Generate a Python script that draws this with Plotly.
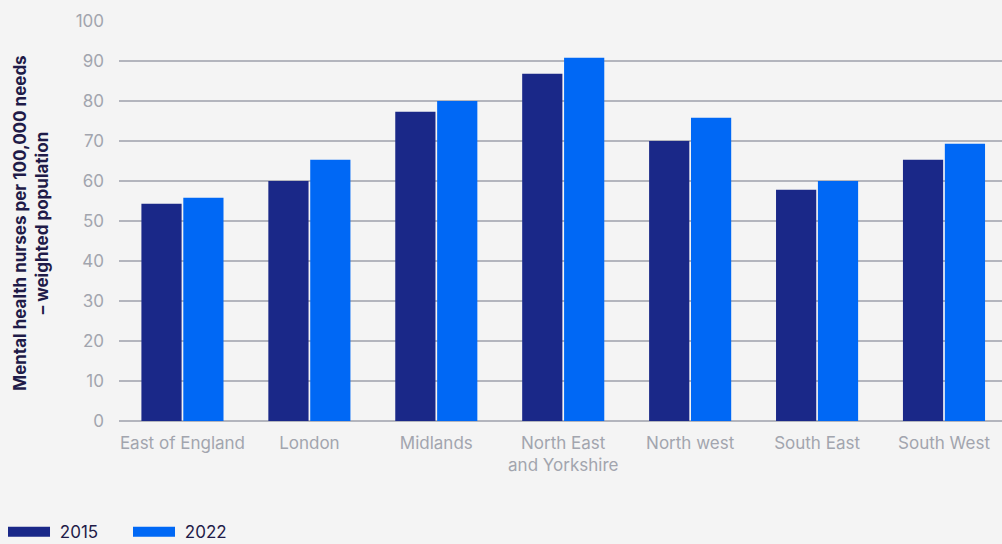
import plotly.graph_objects as go

categories = ["East of England", "London", "Midlands", "North East<br>and Yorkshire",
              "North west", "South East", "South West"]
values_2015 = [54.3, 60.0, 77.3, 86.8, 70.0, 57.8, 65.3]
values_2022 = [55.8, 65.3, 80.0, 90.8, 75.8, 60.0, 69.3]
series_names = ["2015", "2022"]
colors = ["#1a2888", "#0068f5"]
y_ticks = [0, 10, 20, 30, 40, 50, 60, 70, 80, 90, 100]
y_title = "Mental health nurses per 100,000 needs<br>– weighted population"

FONT = "Inter"
TICK_COLOR = "#a2a5ae"
DARK = "#1f1b48"

fig = go.Figure()
for name, vals, col in zip(series_names, [values_2015, values_2022], colors):
    fig.add_trace(go.Bar(x=categories, y=vals, name=name, marker_color=col,
                         marker_line_width=0, showlegend=False))
    fig.add_trace(go.Scatter(x=[None], y=[None], mode="lines", name="\u00a0" + name,
                             line=dict(color=col, width=12), showlegend=True))

fig.add_annotation(text=y_title, xref="paper", yref="paper", x=-0.1, y=0.495,
                   xanchor="center", yanchor="middle", textangle=-90, showarrow=False,
                   align="center",
                   font=dict(family=FONT, size=17, color=DARK, weight="bold"))

fig.update_layout(
    width=1002, height=544,
    paper_bgcolor="#f4f4f4", plot_bgcolor="#f4f4f4",
    margin=dict(l=118.5, r=0, t=21, b=122.5, autoexpand=False),
    barmode="group", bargap=0.34, bargroupgap=0.04,
    font=dict(family=FONT, size=17, color=TICK_COLOR),
    legend=dict(orientation="h", xref="container", yref="paper",
                x=0.003, y=-0.278, xanchor="left", yanchor="middle",
                font=dict(family=FONT, size=17, color=DARK),
                entrywidth=68, entrywidthmode="pixels",
                itemwidth=42, tracegroupgap=0, bgcolor="rgba(0,0,0,0)"),
    xaxis=dict(range=[-0.5, 6.457], showgrid=False, showline=False, ticks="",
               ticklabelstandoff=10,
               tickfont=dict(family=FONT, size=17, color=TICK_COLOR),
               automargin=False),
    yaxis=dict(range=[0, 100], tickvals=y_ticks, showgrid=True,
               gridcolor="#b3b5bd", gridwidth=1.5, zeroline=True,
               zerolinecolor="#b3b5bd", zerolinewidth=1.5, ticks="",
               ticklabelstandoff=14,
               tickfont=dict(family=FONT, size=17, color=TICK_COLOR),
               automargin=False),
)

fig.write_html("out.html")
